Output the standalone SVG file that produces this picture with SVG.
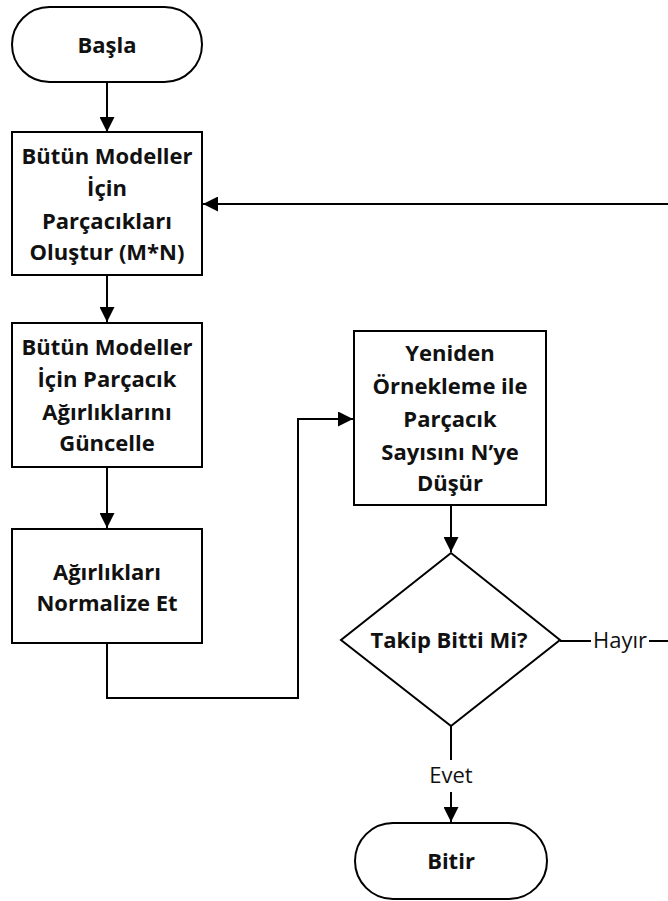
<svg xmlns="http://www.w3.org/2000/svg" width="668" height="901" viewBox="0 0 668 901">
<defs>
<marker id="arr" viewBox="0 0 10 10" refX="10" refY="5" markerWidth="15" markerHeight="15" markerUnits="userSpaceOnUse" orient="auto">
<path d="M0,0 L10,5 L0,10 Z" fill="#000"/>
</marker>
<style>
.shape{fill:#fff;stroke:#000;stroke-width:2}
.t{font-family:"Open Sans","Liberation Sans",sans-serif;font-weight:bold;font-size:22px;fill:#111;text-anchor:middle}
.lbl{font-family:"Open Sans","Liberation Sans",sans-serif;font-size:22px;fill:#111;text-anchor:middle}
.c{fill:none;stroke:#000;stroke-width:2}
</style>
</defs>
<rect width="668" height="901" fill="#fff"/>
<g id="connectors">
<path class="c" d="M107,82 V132" marker-end="url(#arr)"/>
<path class="c" d="M107,275 V322" marker-end="url(#arr)"/>
<path class="c" d="M107,467 V528" marker-end="url(#arr)"/>
<path class="c" d="M107,643 V698 H298 V419 H353" marker-end="url(#arr)"/>
<path class="c" d="M451,505 V552" marker-end="url(#arr)"/>
<path class="c" d="M560,641 H670"/>
<path class="c" d="M670,204 H203" marker-end="url(#arr)"/>
<path class="c" d="M451,726 V822" marker-end="url(#arr)"/>
<g id="label-hayir">
<rect x="591" y="628" width="58" height="26" fill="#fff"/>
<text class="lbl" x="620" y="648">Hayır</text>
</g>
<g id="label-evet">
<rect x="424" y="760" width="54" height="32" fill="#fff"/>
<text class="lbl" x="451" y="783">Evet</text>
</g>
</g>
<g id="basla">
<rect class="shape" x="12" y="7" width="190" height="75" rx="37.5" ry="37.5"/>
<text class="t" x="107" y="53">Başla</text>
</g>
<g id="olustur">
<rect class="shape" x="12" y="132" width="190" height="143"/>
<text class="t" x="107" y="164">Bütün Modeller</text>
<text class="t" x="107" y="196">İçin</text>
<text class="t" x="107" y="229">Parçacıkları</text>
<text class="t" x="107" y="260">Oluştur (M*N)</text>
</g>
<g id="guncelle">
<rect class="shape" x="12" y="323" width="190" height="144"/>
<text class="t" x="107" y="355">Bütün Modeller</text>
<text class="t" x="107" y="387">İçin Parçacık</text>
<text class="t" x="107" y="420">Ağırlıklarını</text>
<text class="t" x="107" y="451">Güncelle</text>
</g>
<g id="normalize">
<rect class="shape" x="12" y="529" width="190" height="114"/>
<text class="t" x="107" y="580">Ağırlıkları</text>
<text class="t" x="107" y="611">Normalize Et</text>
</g>
<g id="ornekleme">
<rect class="shape" x="354" y="331" width="192" height="174"/>
<text class="t" x="450" y="361">Yeniden</text>
<text class="t" x="450" y="394">Örnekleme ile</text>
<text class="t" x="450" y="427">Parçacık</text>
<text class="t" x="450" y="460">Sayısını N’ye</text>
<text class="t" x="450" y="491">Düşür</text>
</g>
<g id="karar">
<polygon class="shape" points="451,553 560,640 451,726 341,640"/>
<text class="t" x="449" y="648">Takip Bitti Mi?</text>
</g>
<g id="bitir">
<rect class="shape" x="355" y="823" width="192" height="76" rx="38" ry="38"/>
<text class="t" x="451" y="869">Bitir</text>
</g>
</svg>
